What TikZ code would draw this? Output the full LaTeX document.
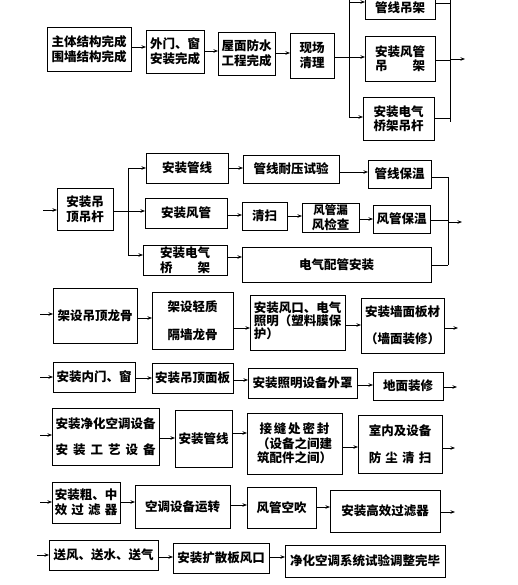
\documentclass[tikz,border=0pt]{standalone}
\usepackage{fontspec}
\newfontfamily\cjk{Noto Sans CJK SC}
\usetikzlibrary{arrows.meta}
\newcommand\bx[6]{\node[bx,minimum width={(#4-#2)*1pt},minimum height={(#5-#3)*1pt}] (#1) at ({(#2+#4)/2},{(#3+#5)/2}) {#6};}
\newcommand\conn[3]{\draw[arr] (#1.east |- 0,#3) -- (#2.west |- 0,#3);}
\newcommand\sprd[2]{\makebox[#1]{#2}}
\begin{document}
\begin{tikzpicture}[x=1pt,y=-1pt,
  bx/.style={draw,line width=0.9pt,inner sep=0pt,outer sep=0pt,align=center,
    font=\cjk\bfseries\fontsize{12.5}{14.5}\selectfont},
  arr/.style={line width=0.7pt,-{Stealth[length=4.5pt,width=3.5pt]}},
  ln/.style={line width=0.7pt}]
\useasboundingbox (0,0) rectangle (518,585);
\clip (0,0) rectangle (518,585);
\fill[white] (0,0) rectangle (518,585);
% ---------- row 1
\bx{a1}{47}{27}{131}{71}{主体结构完成\\围墙结构完成}
\bx{a2}{146}{30}{204}{73}{外门、窗\\安装完成}
\bx{a3}{218}{32}{275}{75}{屋面防水\\工程完成}
\bx{a4}{290}{33}{334}{78}{现场\\清理}
\bx{a5}{365}{-4}{435}{19}{管线吊架}
\bx{a6}{365}{36}{435}{81}{安装风管\\吊\hspace{2em}架}
\bx{a7}{363}{97}{434}{140}{安装电气\\桥架吊杆}
\conn{a1}{a2}{47}
\conn{a2}{a3}{51}
\conn{a3}{a4}{53}
\coordinate (p1t) at (349,-5);
\coordinate (p1b) at (349,117);
\draw[ln] (p1t) -- (p1b);
\conn{a4}{a6}{57}
\draw[arr] (p1t |- 0,2) -- (a5.west |- 0,2);
\draw[arr] (p1b) -- (a7.west |- p1b);
\coordinate (q1t) at (450,-5);
\coordinate (q1b) at (450,122);
\draw[ln] (q1t) -- (q1b);
\draw[ln] (a5.east |- 0,3) -- (q1t |- 0,3);
\draw[ln] (a6.east |- 0,60) -- (q1t |- 0,60);
\draw[ln] (a7.east |- 0,118) -- (q1t |- 0,118);
\coordinate (o1) at (465,59);
\draw[arr] (q1t |- o1) -- (o1);
% ---------- row 2
\coordinate (i2) at (43,210);
\bx{b1}{57}{188}{113}{230}{安装吊\\顶吊杆}
\draw[arr] (i2) -- (b1.west |- i2);
\bx{b2}{146}{153}{228}{183}{安装管线}
\bx{b3}{145}{198}{227}{228}{安装风管}
\bx{b4}{143}{245}{227}{275}{安装电气\\桥\hspace{2em}架}
\coordinate (p2t) at (128,168);
\coordinate (p2b) at (128,255);
\draw[ln] (p2t) -- (p2b);
\conn{b1}{b3}{211}
\draw[arr] (p2t) -- (b2.west |- p2t);
\draw[arr] (p2b) -- (b4.west |- p2b);
\bx{b5}{243}{155}{339}{183}{管线耐压试验}
\bx{b6}{368}{160}{431}{188}{管线保温}
\bx{b7}{242}{202}{287}{230}{清扫}
\bx{b8}{302}{203}{359}{232}{\fontsize{11.5}{12.5}\selectfont 风管漏\\风检查}
\bx{b9}{373}{205}{430}{233}{风管保温}
\bx{b10}{242}{247}{431}{282}{电气配管安装}
\conn{b2}{b5}{168}
\conn{b5}{b6}{172}
\conn{b3}{b7}{215}
\conn{b7}{b8}{216}
\conn{b8}{b9}{219}
\conn{b4}{b10}{257}
\coordinate (q2t) at (448,177);
\coordinate (q2b) at (448,265);
\draw[ln] (q2t) -- (q2b);
\draw[ln] (b6.east |- q2t) -- (q2t);
\draw[ln] (b9.east |- 0,220) -- (q2t |- 0,220);
\draw[ln] (b10.east |- q2b) -- (q2b);
\coordinate (o2) at (462,222);
\draw[arr] (q2t |- o2) -- (o2);
% ---------- row 3
\coordinate (i3) at (40,314);
\bx{c1}{53}{288}{137}{343}{架设吊顶龙骨}
\bx{c2}{152}{292}{233}{349}{架设轻质\\[13pt]隔墙龙骨}
\bx{c3}{250}{295}{345}{350}{\begin{tabular}{@{}l@{}}安装风口、电气\\[-2pt]照明（塑料膜保\\[-2pt]护）\end{tabular}}
\bx{c4}{361}{298}{444}{353}{安装墙面板材\\[13pt]（墙面装修）}
\draw[arr] (i3) -- (c1.west |- i3);
\conn{c1}{c2}{318}
\conn{c2}{c3}{328}
\conn{c3}{c4}{325}
\coordinate (o3) at (458,328);
\draw[arr] (c4.east |- o3) -- (o3);
% ---------- row 4
\coordinate (i4) at (40,377);
\bx{d1}{53}{362}{135}{392}{安装内门、窗}
\bx{d2}{152}{363}{233}{393}{安装吊顶面板}
\bx{d3}{248}{368}{357}{398}{安装照明设备外罩}
\bx{d4}{373}{372}{443}{400}{地面装修}
\draw[arr] (i4) -- (d1.west |- i4);
\conn{d1}{d2}{378}
\conn{d2}{d3}{380}
\conn{d3}{d4}{385}
\coordinate (o4) at (457,387);
\draw[arr] (d4.east |- o4) -- (o4);
% ---------- row 5
\coordinate (i5) at (40,435);
\bx{e1}{52}{408}{159}{465}{安装净化空调设备\\[12pt]\sprd{8em}{安\hfill 装\hfill 工\hfill 艺\hfill 设\hfill 备}}
\bx{e2}{175}{410}{232}{467}{安装管线}
\bx{e3}{247}{413}{342}{474}{\sprd{5.6em}{接\hfill 缝\hfill 处\hfill 密\hfill 封}\\（设备之间建\\筑配件之间）}
\bx{e4}{358}{415}{442}{473}{室内及设备\\[12pt]\sprd{5em}{防\hfill 尘\hfill 清\hfill 扫}}
\draw[arr] (i5) -- (e1.west |- i5);
\conn{e1}{e2}{438}
\conn{e2}{e3}{433}
\conn{e3}{e4}{447}
\coordinate (o5) at (455,448);
\draw[arr] (e4.east |- o5) -- (o5);
% ---------- row 6
\coordinate (i6) at (40,502);
\bx{f1}{52}{482}{120}{523}{安装粗、中\\\sprd{5em}{效\hfill 过\hfill 滤\hfill 器}}
\bx{f2}{135}{485}{230}{528}{空调设备运转}
\bx{f3}{247}{487}{316}{528}{风管空吹}
\bx{f4}{330}{490}{440}{532}{安装高效过滤器}
\draw[arr] (i6) -- (f1.west |- i6);
\conn{f1}{f2}{502}
\conn{f2}{f3}{505}
\conn{f3}{f4}{507}
\coordinate (o6) at (455,512);
\draw[arr] (f4.east |- o6) -- (o6);
% ---------- row 7
\coordinate (i7) at (37,555);
\bx{g1}{49}{540}{158}{570}{送风、送水、送气}
\bx{g2}{173}{543}{269}{573}{安装扩散板风口}
\bx{g3}{285}{545}{445}{577}{净化空调系统试验调整完毕}
\draw[arr] (i7) -- (g1.west |- i7);
\conn{g1}{g2}{557}
\conn{g2}{g3}{557}
\end{tikzpicture}
\end{document}
